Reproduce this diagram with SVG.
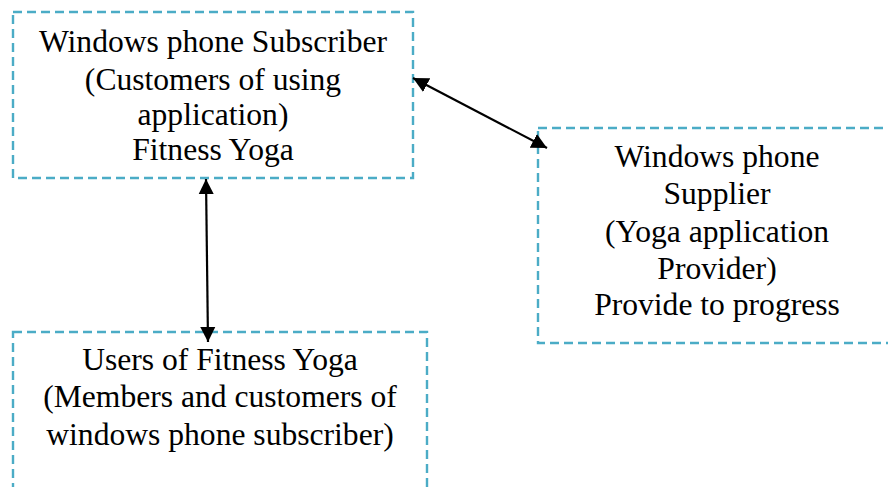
<svg xmlns="http://www.w3.org/2000/svg" width="888" height="487" viewBox="0 0 888 487">
<defs>
<marker id="ah" viewBox="0 0 10 10" refX="10" refY="5" markerWidth="7" markerHeight="7" orient="auto-start-reverse" markerUnits="strokeWidth">
<path d="M0,0 L10,5 L0,10 Z" fill="#000"/>
</marker>
</defs>
<style>
.box{fill:none;stroke:#4BACC6;stroke-width:2.4;stroke-dasharray:9,5}
.t{font-family:"Liberation Serif","Times New Roman",serif;font-size:31.6px;fill:#000;text-anchor:middle}
.c{stroke:#000;stroke-width:2.2;fill:none;marker-start:url(#ah);marker-end:url(#ah)}
</style>
<rect width="888" height="487" fill="#fff"/>
<g id="subscriber">
<rect class="box" x="13" y="12" width="400" height="166"/>
<text class="t" x="213" y="52">Windows phone Subscriber</text>
<text class="t" x="213" y="90">(Customers of using</text>
<text class="t" x="213" y="125">application)</text>
<text class="t" x="213" y="160">Fitness Yoga</text>
</g>
<g id="supplier">
<rect class="box" x="538" y="128" width="358" height="215"/>
<text class="t" x="717" y="167">Windows phone</text>
<text class="t" x="717" y="204">Supplier</text>
<text class="t" x="717" y="242">(Yoga application</text>
<text class="t" x="717" y="279">Provider)</text>
<text class="t" x="717" y="315">Provide to progress</text>
</g>
<g id="users">
<rect class="box" x="13" y="332" width="414" height="170"/>
<text class="t" x="220" y="370">Users of Fitness Yoga</text>
<text class="t" x="220" y="407">(Members and customers of</text>
<text class="t" x="220" y="445">windows phone subscriber)</text>
</g>
<g id="connectors">
<line class="c" x1="413" y1="78" x2="547" y2="148"/>
<line class="c" x1="206" y1="179" x2="208" y2="342"/>
</g>
</svg>
